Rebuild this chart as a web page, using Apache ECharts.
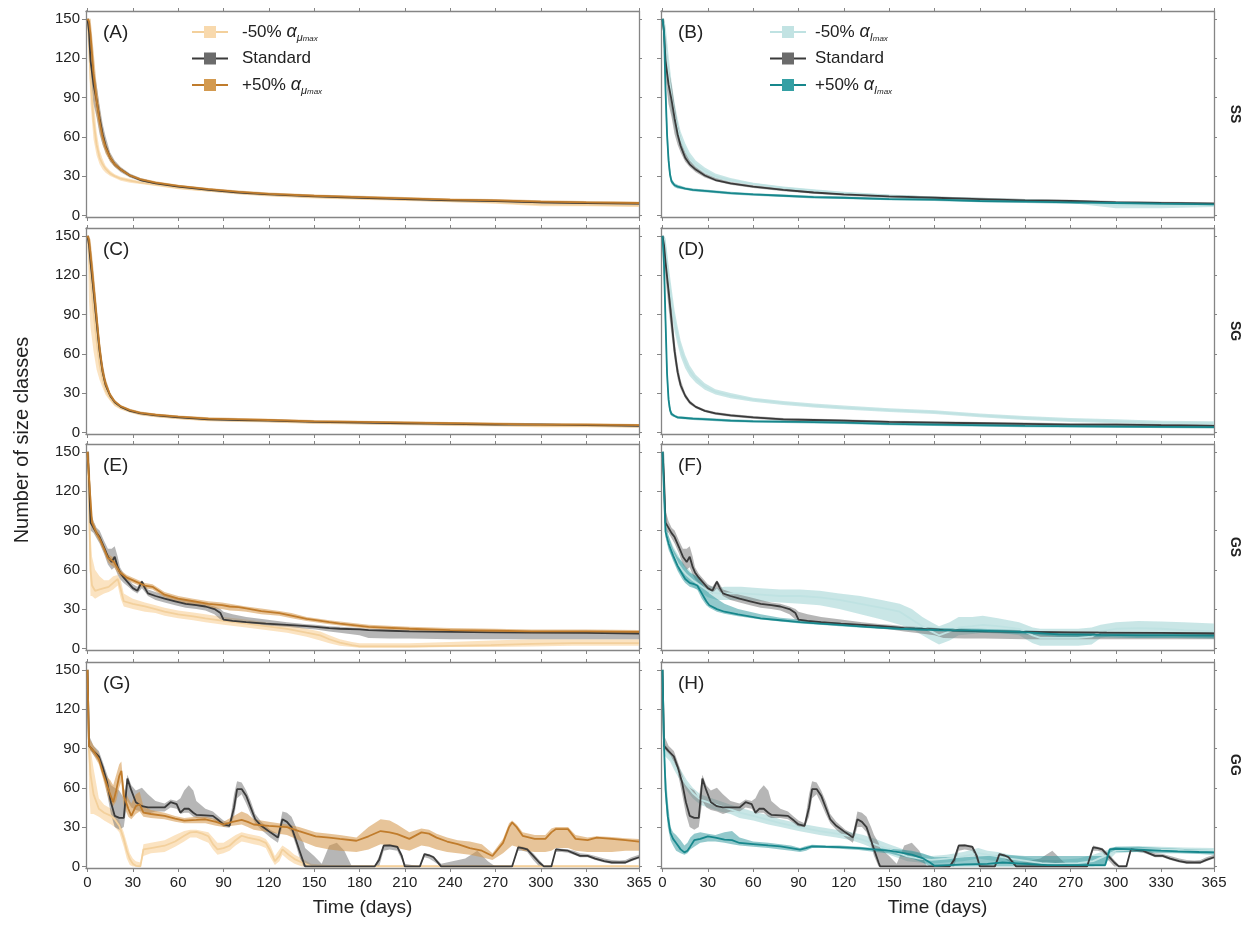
<!DOCTYPE html>
<html>
<head>
<meta charset="utf-8">
<script src="https://cdn.jsdelivr.net/npm/echarts@6/dist/echarts.min.js"></script>
<style>
  html, body { margin: 0; padding: 0; background: #fff; }
  #chart { width: 1245px; height: 928px; }
</style>
</head>
<body>
<div id="chart"></div>
<script>
// every row: [day, mean, lower, upper]
const ssStd = [[0,150,150,150],[1,140,132,150],[2,118,105,135],[4,100,85,112],[6,88,75,100],[8,74,62,84],[10,62,54,70],[12,53,48,60],[15,44,41,48],[18,39,37,42],[22,35,33,37],[28,30.5,29,32],[35,27,26,28.5],[45,24.5,23.5,25.5],[60,22,21,23],[80,19.5,18.5,20.5],[100,17.5,16.5,18.5],[120,16,15,17],[150,14.5,13.5,15.5],[180,13.5,12.5,14.5],[210,12.5,11.5,13.5],[240,11.5,10.5,12.5],[270,11,10,12],[300,10,9,11],[330,9.5,8.5,10.5],[365,9,8,10]];
const ssLowMu = [[0,150,150,150],[1,130,115,145],[2,105,85,125],[4,72,58,90],[6,54,46,64],[8,44,39,50],[10,39,35,43],[12,35.5,32.5,38],[15,32,30,34],[18,30,28.5,31.5],[22,28,26.5,29.5],[28,26.5,25,28],[35,25,24,26],[45,23.5,22.5,24.5],[60,21,20,22],[80,19,18,20],[100,17,16,18],[120,15.5,14.5,16.5],[150,14,13,15],[180,13,12,14],[210,12,11,13],[240,11,10,12],[270,10,9,11],[300,8.5,7,10],[330,8,7,9],[365,7.5,6.5,8.5]];
const ssHighMu = [[0,150,150,150],[1,148,140,150],[2,138,118,150],[4,108,92,125],[6,88,76,100],[8,72,64,82],[10,60,54,66],[12,52,47,56],[15,44,41,47],[18,39,37,41],[22,35,33.5,36.5],[28,30.5,29.5,31.5],[35,27.5,26.5,28.5],[45,25,24,26],[60,22.5,21.5,23.5],[80,20,19,21],[100,18,17,19],[120,16.5,15.5,17.5],[150,15,14,16],[180,14,13,15],[210,13,12,14],[240,12,11,13],[270,11.5,10.5,12.5],[300,10.5,9.5,11.5],[330,10,9,11],[365,9.5,8.5,10.5]];
const ssLowI = [[0,150,150,150],[1,145,135,150],[2,130,115,145],[4,108,95,122],[6,90,78,102],[8,76,66,86],[10,66,58,74],[12,58,51,64],[15,50,45,55],[18,44,40,48],[22,39,36,42],[28,34,31.5,36.5],[35,30,28,32],[45,27,25.5,28.5],[60,24,23,25],[80,21,20,22],[100,19,18,20],[120,17,16,18],[150,15,14,16],[180,13.5,12.5,14.5],[210,12.5,11.5,13.5],[240,11.5,10.5,12.5],[270,10.5,9.5,11.5],[300,8,5.5,10],[330,7.5,5.5,9.5],[365,8,6.5,9.5]];
const ssHighI = [[0,150,150,150],[1,140,130,150],[2,95,80,112],[3,62,52,75],[4,42,36,50],[5,31,27,36],[6,26,24,28],[8,23,21.5,24.5],[10,22,20.5,23.5],[15,20.5,19.5,21.5],[20,19.5,18.5,20.5],[30,18.5,17.5,19.5],[45,17,16,18],[60,16,15,17],[80,15,14,16],[100,14,13,15],[120,13.5,12.5,14.5],[150,12.5,11.5,13.5],[180,12,11,13],[210,11,10,12],[240,10.5,9.5,11.5],[270,10,9,11],[300,9.5,8.5,10.5],[330,9,8,10],[365,8.5,7.5,9.5]];

const sgStd = [[0,150,150,150],[1,143,135,150],[2,130,118,142],[4,108,95,120],[6,85,74,96],[8,62,55,70],[10,46,41,52],[12,36,33,40],[15,28,26,30],[18,23,21.5,24.5],[22,19.5,18.5,20.5],[28,16.5,15.5,17.5],[35,14.5,13.5,15.5],[45,13,12,14],[60,11.5,10.5,12.5],[80,10,9,11],[100,9.5,8.5,10.5],[120,9,8,10],[150,8,7,9],[180,7.5,6.5,8.5],[210,7,6,8],[240,6.5,5.5,7.5],[270,6,5,7],[300,6,5,7],[330,5.5,4.5,6.5],[365,5,4,6]];
const sgLowMu = [[0,150,150,150],[1,135,100,150],[2,118,80,138],[4,92,62,108],[6,70,48,82],[8,52,40,60],[10,40,34,45],[12,32,28.5,35],[15,26,24,28],[18,21.5,20,23],[22,18.5,17.5,19.5],[28,16,15,17],[35,14,13,15],[45,12.5,11.5,13.5],[60,11,10,12],[80,9.5,8.5,10.5],[100,9,8,10],[120,8.5,7.5,9.5],[150,7.5,6.5,8.5],[180,7,6,8],[210,6.5,5.5,7.5],[240,6,5,7],[270,5.5,4.5,6.5],[300,5,4,6],[330,5,4,6],[365,4.5,3.5,5.5]];
const sgHighMu = [[0,150,150,150],[1,147,140,150],[2,136,125,147],[4,112,100,124],[6,88,78,98],[8,64,57,72],[10,47,42,53],[12,37,34,41],[15,28.5,26.5,30.5],[18,23.5,22,25],[22,20,19,21],[28,17,16,18],[35,15,14,16],[45,13.5,12.5,14.5],[60,12,11,13],[80,10.5,9.5,11.5],[100,10,9,11],[120,9.5,8.5,10.5],[150,8.5,7.5,9.5],[180,8,7,9],[210,7.5,6.5,8.5],[240,7,6,8],[270,6.5,5.5,7.5],[300,6,5,7],[330,6,5,7],[365,5.5,4.5,6.5]];
const sgLowI = [[0,150,150,150],[1,148,144,150],[2,140,132,148],[4,118,108,128],[6,100,90,110],[8,85,77,93],[10,74,67,81],[12,64,58,70],[15,54,49,59],[18,47,43,51],[22,41,38,44],[28,35,32.5,37.5],[35,31,29,33],[45,28,26,30],[60,25,23.5,26.5],[80,22.5,21,24],[100,20.5,19,22],[120,19,17.5,20.5],[150,17,15.5,18.5],[180,15.5,14,17],[210,13,11.5,14.5],[240,11,9.5,12.5],[270,9.5,8,11],[300,8.5,7,10],[330,7.5,6,9],[365,7,5.5,8.5]];
const sgHighI = [[0,150,150,150],[1,128,112,145],[2,85,70,100],[3,45,36,56],[4,25,20,31],[5,17,14,20],[6,14,12.5,15.5],[8,12.5,11.5,13.5],[10,11.5,10.5,12.5],[15,11,10,12],[20,10.5,9.5,11.5],[30,10,9,11],[45,9,8,10],[60,8.5,7.5,9.5],[90,8,7,9],[120,7.5,6.5,8.5],[150,6.5,5.5,7.5],[180,6,5,7],[240,5,4,6],[300,4.5,3.5,5.5],[365,4,3,5]];

const gsStd = [[0,150,150,150],[1,130,120,150],[2,96,90,105],[4,92,88,97],[6,88,84,92],[8,85,80,90],[11,77,72,82],[13.5,70,64,76],[16,66,60,76],[18,70,62,78],[20,62,56,70],[21.5,58,53,62],[24,54,50,57],[27,50,47,53],[30,46,44,49],[33,44,42,47],[36,51,46,52],[38,46,43,49],[40,42,40,45],[45,40,37,43],[51,38,35,41],[58,36,33,39],[65,34,31,37],[72,33,30,35],[78,32,29,34],[84,30,26,32],[88,27,22,30],[90,22,21,28],[96,21,20,26],[105,20,19,24],[118,19,17.5,22],[132,18,16.5,20],[145,17,15,18.5],[151,16.5,14.5,18],[160,15.5,13,17],[167,15,12,16.5],[180,14.5,10,15.5],[186,14,8,15],[200,13.5,7.5,14.5],[213,13,7.5,14],[240,12.7,7,13.5],[270,12.3,7,13],[294,12,7,13],[330,11.8,7,12.5],[365,11.4,7,12.5]];
const gsLowMu = [[0,150,150,150],[1,110,80,140],[2,60,40,88],[3,48,40,70],[5,44,38,60],[8,45,40,55],[11,46,42,52],[14,47,43,52],[17,50,45,55],[20,53,48,56],[22,45,38,52],[24,36,32,42],[30,34,30,38],[38,32,28,35],[45,30,27,33],[51,28,25,31],[60,26,23,29],[70,24.5,21.5,27.5],[78,23,20,26],[90,21,18,24],[105,19,16,22],[118,17,14,20],[132,15,12,18],[145,12,9,15],[154,10,6,13],[160,7,4,10],[167,4.5,2,7],[175,2.5,1,5],[180,1.5,0.5,4],[200,1.5,0.5,4],[213,1.5,0.5,4],[240,2,1,5],[267,2.5,1,6],[294,3.5,1.5,7],[321,4,2,7],[345,4,2,7],[365,4,2,7]];
const gsHighMu = [[0,150,150,150],[1,130,115,150],[3,96,92,100],[6,88,85,91],[8,84,81,87],[11,76,73,79],[13.5,69,66,72],[15,68,64,71],[17.5,66,62,69],[21.5,58,55,60],[26,54,52,56],[32,51,49,53],[38,48,46,50],[43,47,45,49],[51,41,39,43],[60,38,35,40],[70,36,33,38],[80,34,31,36],[89,33,30,35],[94,32,29,34],[100,31.5,28.5,33],[105,30.5,28,32],[115,28.5,26,30.5],[127,27,25,28.5],[135,25,23,27],[145,22.5,21,24],[151,21.6,20,23],[160,20,18.5,21.5],[167,19,17.5,20.5],[186,16.5,15,18],[213,15,13.5,16.5],[240,14,12.5,15.5],[270,13.5,12,15],[294,13,11.5,14.5],[330,13,11.5,14.5],[365,12.7,11,14]];
const gsLowI = [[0,150,150,150],[1,125,110,150],[2,90,85,96],[4,80,75,86],[7,72,68,78],[10,65,60,72],[13,60,55,66],[16,56,51,62],[20,52,47,57],[25,48,43,52],[30,44,39,48],[36,42,37,46],[41,42,37,47],[52,42,37,47],[65,41,36,46],[78,40,35,45],[91,40,34,45],[104,39,33,44],[117,37,30,42],[131,34,26,40],[145,31,22,37],[157,28,18,34],[165,22,15,30],[172,17,10,24],[178,13,6,20],[183,10,3,17],[190,13,6,20],[196,16,10,24],[205,17,11,24],[212,18,12,25],[222,17,12,23],[236,15,10,20],[245,10,4,16],[250,8,2,15],[262,8,2,15],[275,8,2,15],[284,9,3,16],[290,13,8,18],[300,15,10,20],[315,15.5,10,21],[330,15,10,20.5],[345,14,9,20],[365,13,8,19]];
const gsHighI = [[0,150,150,150],[1,120,105,150],[2,89,85,94],[4,80,76,86],[7,71,67,76],[10,63,59,70],[13,57,53,66],[15,53,50,62],[18,50,47,58],[21,49,46,56],[23,48,45,55],[26,42,38,50],[29,36,33,45],[31,33,31,42],[36,30,28,38],[41,28,26.5,34],[50,26,24.5,30],[65,23,22,26],[78,21.5,20.5,23.5],[91,20,19,22],[104,19,18,20.5],[117,18,17,19.5],[135,16.5,15.5,18],[157,15,14,16.5],[183,14,13,15.5],[210,13.5,12,15],[236,12.7,11,14],[262,10.7,9,12.5],[290,10.3,8.5,12],[315,10,8,12],[340,10,8,12],[365,9.7,7.5,12]];

const ggStd = [[0,150,150,150],[1,92,90,100],[4,88,85,92],[7.5,84,80,88],[10,76,72,80],[13,64,55,70],[15.5,49,40,62],[18,38.6,30,60],[21,37,28,58],[24,37,30,52],[26.4,67,50,70],[29,58,45,62],[32,49,43,58],[36,46,42,60],[40,45,40,55],[45,45,42,50],[51,45,42,48],[55,49,45,51],[59,47.5,44,50],[61.5,41,40,52],[64,44,41,58],[67,44,41,62],[70,41,38,58],[72,39.4,37,50],[78,39,37,44],[83,38.6,36,42],[87,35,33,38],[90,32,30,35],[94,31,29.5,33],[97,45,38,55],[99,59,52,65],[102,59,55,64],[105,54,48,58],[108,45,40,50],[111,36,33,40],[115,31,28,34],[121,26,22,28],[126,22,18,25],[129,36,30,42],[132,34,30,41],[135,30,26,38],[138,20,16,30],[140,13,8,24],[143,3,0,18],[144,0,0,14],[150,0,0,8],[155,0,0,2],[160,0,0,16],[165,0,0,18],[170,0,0,12],[175,0,0,0],[190,0,0,0],[193,5,0,8],[196,15.8,12,17],[200,16,13,17],[205,15,12,16],[208,8,5,10],[210,0,0,2],[220,0,0,0],[223,9.4,7,10],[226,8.5,6,9.5],[229,7,4,8],[234,0,0,2],[250,0,0,6],[258,0,0,12],[265,0,0,4],[270,0,0,0],[281,0,0,0],[285,14.5,12,16],[288,14,12,15],[291,13,11,14],[295,8,5,10],[299,3,0,5],[302,0,0,1],[307,0,0,1],[310,13,11,14],[314,12.5,11,13.5],[318,12,10.5,13],[322,10,9,12],[326,8,7,10],[331,8,7,9.5],[336,6,5,8],[342,4,3,6],[347,3,2,5],[352,3,2,4.5],[356,3,2,5],[360,5,4,7],[365,7,6,9]];
const ggLowMu = [[0,150,150,150],[1,89,60,95],[2,70,40,90],[4,55,40,75],[7.5,44,38,52],[11,41,35,47],[15.6,38.6,32,44],[18,36,30,40],[21,31,26,35],[24,21,15,26],[26,12,6,18],[28,5.6,1,10],[30,2,0,6],[32,0.5,0,4],[35,0,0,3],[37,13,8,17],[42,14,10,18],[51,15.8,11,20],[58,19,15,24],[64,23.4,19,27],[68,26,22,28],[72,26.4,22,28],[76,25,20,27],[80,23,18,26],[83,17,13,22],[86,13,9,18],[90,14,10,18],[94,15.8,12,21],[98,20,16,24],[102,23.4,19,26],[106,22,18,25],[110,21,17,24],[114,20,16,23],[118,18,14,21],[121,12,7,16],[124,4,1,8],[127,8,4,13],[129,13,9,16],[133,9,5,13],[137,5.6,2,9],[142,3,0,6],[148,0,0,2],[160,0,0,1],[365,0,0,1]];
const ggHighMu = [[0,150,150,150],[1,92,90,98],[4,88,85,92],[7.5,82,78,86],[10,72,68,76],[13,61.5,55,68],[15,55,48,66],[17,49,46,62],[19,58,50,70],[21,69,60,78],[22.4,73,65,80],[23,66,55,72],[24,54,46,60],[27,44,38,52],[29,38.6,36,48],[32,46,40,55],[34.5,47.5,42,57],[37,41,38,46],[42,40,37,43],[51,38.6,36,41],[58,36.5,34,38.5],[64,35,33,37],[72,35.5,33,38],[78,36,33,38],[85,34,31,36],[90,32,30,34],[96,34,31,38],[102,35.6,32,42],[106,34,30,40],[110,32,28,36],[120,31,26,34],[132,30,24,32],[140,27,20,30],[151,23,15,26],[160,22,13,25],[167,21,12,24],[178,19.6,11,22],[186,23,13,30],[194,27,17,36],[200,26,16,35],[205,24.6,14,32],[213,21,12,26],[221,26,16,29],[226,25,15,28],[231,22,13,25],[238,19,11,22],[245,17,10,20],[253,14,9,19],[261,12,7,17],[268,8,5,10],[275,18,10,21],[279,30,14,33],[281,33.6,16,35],[284,30,15,32],[288,23.4,12,26],[296,21,11,24],[303,21,11,24],[307,26,12,29],[310,28.5,14,30],[318,28.5,14,30],[323,21,12,24],[331,20,11,22],[337,22,11,23],[347,21,11,22.5],[356,20,12,21.5],[365,19,12,21]];
const ggLowI = [[0,150,150,150],[1,89,85,95],[5,84,80,88],[8,77,73,82],[12,69,65,74],[16,62,58,66],[20,56,52,60],[25,51,47,55],[30,49,45,53],[38,46,42,50],[45,43.5,40,47],[51,41,37,45],[60,38.5,35,42],[70,35.5,32,39],[78,33,30,36],[90,30,27,33],[104,27,24,30],[115,25,22,28],[125,23,20,26],[133,20,17,24],[141,16.6,13,21],[150,13,9,17],[157,10,6,14],[162,7.7,4,12],[170,6,3,10],[178,5,2,8],[188,6,3,9],[199,7.7,4,11],[209,10.2,6,14],[215,9,5,12],[222,7.7,4,11],[230,6,3,9],[236,5,2,8],[245,3.5,1,6],[251,2.5,0.5,5],[260,2,0,5],[275,2.5,0,6],[285,4,0,9],[293,8,2,12],[300,12,10,15],[315,13,11,15.5],[330,13,11,15],[345,12.5,10.5,14.5],[365,12,10,14]];
const ggHighI = [[0,150,150,150],[1,92,88,98],[2,58.7,50,75],[3.5,38,30,50],[5.3,25.5,20,30],[7,21,16,26],[9,17.9,12,24],[12,13,10,20],[14.5,10.7,9,16],[16.5,12,10,18],[18.4,15.3,13,22],[21,20,15,25],[25,21,18,26],[30,23,19,25],[35,22,19,24],[41,20.4,18,26],[46,20,17,27],[51,17.9,16,22],[60,17,15,19],[70,16,14,18],[78,15.3,13,17],[85,14,12,16],[91,12.8,11,14],[95,14,12,15.5],[99,15.3,14,16.5],[108,15,14,16],[117,14.8,13.5,16],[130,14,12.5,15],[141,12.8,11,14],[150,12,10,13.5],[157,10.7,8,13],[165,9,6,12],[172,6.4,3,10],[177,3,0,8],[180,0.5,0,7],[190,1,0,7],[200,1.5,0,7],[215,2,0,8],[225,3,0,9],[240,2,0,8],[255,1,0,8],[270,1,0,8],[285,1,0,8],[293,1,0,8],[296,13,10,14],[300,13.5,11,15],[315,12.8,11,15],[330,12,10,14],[341,11.5,10,13.5],[355,11,9.5,13],[365,10.7,9,12.5]];

const xTicks = [0, 30, 60, 90, 120, 150, 180, 210, 240, 270, 300, 330, 365];
const yTicks = [0, 30, 60, 90, 120, 150];
const panelLetters = ['(A)', '(B)', '(C)', '(D)', '(E)', '(F)', '(G)', '(H)'];
const rowNames = ['SS', 'SG', 'GS', 'GG'];

const LM = '-50% αμmax', HM = '+50% αμmax', LI = '-50% αImax', HI = '+50% αImax', STD = 'Standard';

// one entry per row: [standard, -50% μ, +50% μ, -50% I, +50% I]
const rows = [
  [ssStd, ssLowMu, ssHighMu, ssLowI, ssHighI],
  [sgStd, sgLowMu, sgHighMu, sgLowI, sgHighI],
  [gsStd, gsLowMu, gsHighMu, gsLowI, gsHighI],
  [ggStd, ggLowMu, ggHighMu, ggLowI, ggHighI]
];

const styles = {
  [STD]: { line: '#3a3a3a', band: 'rgba(110,110,110,0.5)', icon: '#6b6b6b' },
  [LM]: { line: '#f3d09c', band: 'rgba(250,218,172,0.75)', icon: '#f8d9ad' },
  [HM]: { line: '#c07c2c', band: 'rgba(212,148,70,0.55)', icon: '#d39a50' },
  [LI]: { line: '#bfe2e2', band: 'rgba(178,220,220,0.7)', icon: '#c2e3e3' },
  [HI]: { line: '#17878c', band: 'rgba(40,148,153,0.5)', icon: '#35a0a4' }
};

const FONT = 'Liberation Sans, Arial, sans-serif';
const colLeft = [86, 661];
const colWidth = 553;
const rowTop = [11, 228, 444, 662];
const rowHeight = 206;
const axisColor = '#858585';

const grid = [], xAxis = [], yAxis = [], series = [], graphic = [];

// shaded min-max band, drawn as one polygon through the axis scales
function addBand(data, gi, name) {
  const fill = styles[name].band;
  series.push({
    type: 'custom', xAxisIndex: gi, yAxisIndex: gi, silent: true, z: 2,
    data: data.map(r => [r[0], r[2], r[3]]),
    encode: { x: 0, y: [1, 2] },
    renderItem: function (params, api) {
      if (params.dataIndex !== 0) return null;
      const pts = [];
      for (let i = 0; i < data.length; i++) pts.push(api.coord([data[i][0], data[i][3]]));
      for (let i = data.length - 1; i >= 0; i--) pts.push(api.coord([data[i][0], data[i][2]]));
      return { type: 'polygon', shape: { points: pts }, style: { fill: fill } };
    }
  });
}

function addLine(data, gi, name) {
  const st = styles[name];
  series.push({
    type: 'line', name: name, xAxisIndex: gi, yAxisIndex: gi, z: 3,
    symbol: 'rect', showSymbol: false,
    lineStyle: { color: st.line, width: 1.8 },
    itemStyle: { color: st.icon },
    data: data.map(r => [r[0], r[1]])
  });
}

for (let r = 0; r < 4; r++) {
  for (let c = 0; c < 2; c++) {
    const gi = r * 2 + c;
    grid.push({ left: colLeft[c], top: rowTop[r], width: colWidth, height: rowHeight });
    const bottomRow = r === 3;
    xAxis[gi] = {
      type: 'value', gridIndex: gi, min: -1, max: 365, position: 'bottom',
      axisLine: { onZero: false, lineStyle: { color: axisColor, width: 1.3 } },
      axisTick: { customValues: xTicks, length: 4, lineStyle: { color: axisColor } },
      axisLabel: bottomRow ? { customValues: xTicks, color: '#222', fontSize: 15, fontFamily: FONT, margin: 7 } : { show: false },
      splitLine: { show: false },
      name: bottomRow ? 'Time (days)' : '', nameLocation: 'middle', nameGap: 30,
      nameTextStyle: { fontSize: 19, color: '#222', fontFamily: FONT }
    };
    xAxis[gi + 8] = {
      type: 'value', gridIndex: gi, min: -1, max: 365, position: 'top',
      axisLine: { onZero: false, lineStyle: { color: axisColor, width: 1.3 } },
      axisTick: { customValues: xTicks, length: 3, lineStyle: { color: axisColor } },
      axisLabel: { show: false }, splitLine: { show: false }
    };
    yAxis[gi] = {
      type: 'value', gridIndex: gi, min: -1.2, max: 156, position: 'left',
      axisLine: { show: true, onZero: false, lineStyle: { color: axisColor, width: 1.3 } },
      axisTick: { show: true, customValues: yTicks, length: 4, lineStyle: { color: axisColor } },
      axisLabel: c === 0 ? { customValues: yTicks, color: '#222', fontSize: 15, fontFamily: FONT, margin: 6 } : { show: false },
      splitLine: { show: false }
    };
    yAxis[gi + 8] = {
      type: 'value', gridIndex: gi, min: -1.2, max: 156, position: 'right',
      axisLine: { show: true, onZero: false, lineStyle: { color: axisColor, width: 1.3 } },
      axisTick: { show: true, customValues: yTicks, length: 3, lineStyle: { color: axisColor } },
      axisLabel: { show: false }, splitLine: { show: false },
      name: c === 1 ? rowNames[r] : '', nameLocation: 'middle', nameGap: 14, nameRotate: -90,
      nameTextStyle: { fontSize: 14, fontWeight: 'bold', color: '#222', fontFamily: FONT }
    };

    const set = rows[r];
    const names = c === 0 ? [LM, STD, HM] : [LI, STD, HI];
    const datas = c === 0 ? [set[1], set[0], set[2]] : [set[3], set[0], set[4]];
    names.forEach((n, k) => addBand(datas[k], gi, n));
    names.forEach((n, k) => addLine(datas[k], gi, n));

    graphic.push({
      type: 'text', left: colLeft[c] + 17, top: rowTop[r] + 12,
      style: { text: panelLetters[gi], fontSize: 19, fontFamily: FONT, fill: '#222' }
    });
  }
}

graphic.push({
  type: 'text', x: 22, y: 440, rotation: Math.PI / 2,
  style: { text: 'Number of size classes', fontSize: 20, fontFamily: FONT, fill: '#222', align: 'center', verticalAlign: 'middle' }
});

const legendRich = {
  a: { fontSize: 18, fontStyle: 'italic', fontFamily: FONT, color: '#222' },
  b: { fontSize: 11, fontStyle: 'italic', fontFamily: FONT, color: '#222', verticalAlign: 'bottom', lineHeight: 12 },
  c: { fontSize: 8, fontStyle: 'italic', fontFamily: FONT, color: '#222', verticalAlign: 'bottom', lineHeight: 4 }
};
function legendLabel(name) {
  if (name === STD) return name;
  const sub = name.indexOf('μ') >= 0 ? 'μ' : 'I';
  return name.slice(0, 4) + ' {a|α}{b|' + sub + '}{c|max}';
}
function makeLegend(left, pad, data) {
  return {
    left: left, top: 16, orient: 'vertical', data: data, selectedMode: false,
    itemWidth: 36, itemHeight: 15, itemGap: 4.5,
    textStyle: { fontSize: 17, fontFamily: FONT, color: '#222', padding: [0, 0, 0, pad], rich: legendRich, lineHeight: 22 },
    formatter: legendLabel
  };
}

const chart = echarts.init(document.getElementById('chart'));
chart.setOption({
  animation: false,
  backgroundColor: '#fff',
  grid: grid,
  xAxis: xAxis,
  yAxis: yAxis,
  legend: [makeLegend(186, 9, [LM, STD, HM]), makeLegend(764, 4, [LI, STD, HI])],
  graphic: graphic,
  series: series
});
</script>
</body>
</html>
